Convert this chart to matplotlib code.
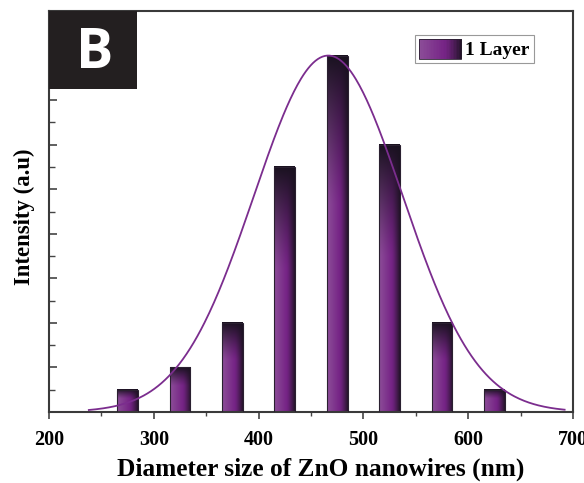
import numpy as np
import matplotlib
matplotlib.use("Agg")
import matplotlib.pyplot as plt
from matplotlib.patches import Rectangle
from matplotlib.legend_handler import HandlerBase
from matplotlib.ticker import MultipleLocator

# ---- data ----
diameters = [275, 325, 375, 425, 475, 525, 575, 625]
counts = [1, 2, 4, 11, 16, 12, 4, 1]
bar_width = 20
fit_center = 466.5
fit_sigma = 71.0
fit_amplitude = 16.0
fit_range = (238, 692)
xticks = [200, 300, 400, 500, 600, 700]
series_label = "1 Layer"

serif = ["Liberation Serif", "DejaVu Serif"]

fig = plt.figure(figsize=(5.84, 4.83), dpi=100)
ax = fig.add_axes([49/584, 1-412/483, 524/584, 401/483])

# colours
light = np.array([140, 78, 152]) / 255
mid = np.array([118, 36, 134]) / 255
darkedge = np.array([38, 20, 44]) / 255
dark = np.array([26, 18, 32]) / 255


def horiz(u):
    u = np.asarray(u)[..., None]
    c1 = light + (mid - light) * np.clip(u / 0.6, 0, 1)
    c2 = mid + (darkedge - mid) * np.clip((u - 0.6) / 0.4, 0, 1) ** 1.3
    return np.where(u < 0.6, c1, c2)


def bar_image(nx=40, ny=200):
    u = np.linspace(0, 1, nx)[None, :]
    t = np.linspace(0, 1, ny)[:, None]  # 0 top -> 1 bottom
    base = horiz(np.broadcast_to(u, (ny, nx)))
    f = np.clip(1 - t / 0.42, 0, 1) ** 1.2
    img = base * (1 - f[..., None]) + dark * f[..., None]
    return img


bars = ax.bar(diameters, counts, width=bar_width, facecolor="none",
              edgecolor="#2a2030", linewidth=0.8, zorder=3)
img = bar_image()
for b in bars:
    x0, w, h = b.get_x(), b.get_width(), b.get_height()
    ax.imshow(img, extent=(x0, x0 + w, 0, h), aspect="auto", zorder=2,
              interpolation="bilinear")

xs = np.linspace(fit_range[0], fit_range[1], 400)
ys = fit_amplitude * np.exp(-(xs - fit_center) ** 2 / (2 * fit_sigma ** 2))
ax.plot(xs, ys, color="#7b2d8e", lw=1.3, zorder=4)

ax.set_xlim(200, 700)
ax.set_ylim(0, 18)
ax.set_xticks(xticks)
ax.xaxis.set_minor_locator(MultipleLocator(50))
ax.yaxis.set_major_locator(MultipleLocator(2))
ax.yaxis.set_minor_locator(MultipleLocator(1))
ax.set_yticklabels([])
ax.tick_params(axis="x", which="major", direction="out", length=5, width=1.2,
               color="#444444", labelsize=14.5, pad=8)
ax.tick_params(axis="x", which="minor", direction="out", length=3, width=1.0,
               color="#444444")
ax.tick_params(axis="y", which="major", direction="in", length=6, width=1.2,
               color="#444444", left=True)
ax.tick_params(axis="y", which="minor", direction="in", length=4, width=1.0,
               color="#444444")
for lab in ax.get_xticklabels():
    lab.set_fontfamily(serif)
    lab.set_fontweight("bold")
for s in ax.spines.values():
    s.set_color("#3a3a3a")
    s.set_linewidth(1.5)

ax.set_xlabel("Diameter size of ZnO nanowires (nm)", fontfamily=serif,
              fontweight="bold", fontsize=18.3, va="center", ha="center")
ax.xaxis.set_label_coords(0.518, -0.142)
ax.set_ylabel("Intensity (a.u)", fontfamily=serif, fontweight="bold",
              fontsize=16.4, va="center", ha="center")
ax.yaxis.set_label_coords(-0.046, 0.4875)

# panel label
ax.add_patch(Rectangle((0, 0.805), 0.168, 0.195, transform=ax.transAxes,
                       facecolor="#231f20", edgecolor="none", zorder=6,
                       clip_on=False))
ax.text(0.088, 0.895, "B", transform=ax.transAxes, color="white",
        fontsize=40, fontweight="bold", fontfamily=["Open Sans", "DejaVu Sans"],
        ha="center", va="center", zorder=7)


class GradHandler(HandlerBase):
    def create_artists(self, legend, orig_handle, xdescent, ydescent, width,
                       height, fontsize, trans):
        arts = []
        n = 30
        for i in range(n):
            u = i / (n - 1)
            c = horiz(np.array([u]))[0]
            r = Rectangle((-xdescent + width * i / n, -ydescent), width / n + 0.3,
                          height, facecolor=c, edgecolor="none", transform=trans)
            arts.append(r)
        arts.append(Rectangle((-xdescent, -ydescent), width, height,
                              facecolor="none", edgecolor="#2a2030", lw=0.6,
                              transform=trans))
        return arts


handle = Rectangle((0, 0), 1, 1)
leg = ax.legend([handle], [series_label], handler_map={Rectangle: GradHandler()},
                loc="upper left", bbox_to_anchor=(0.698, 0.94),
                prop={"family": serif, "weight": "bold", "size": 14},
                fancybox=False, framealpha=1, edgecolor="#999999",
                handlelength=2.2, handleheight=1.2, handletextpad=0.2,
                borderpad=0.2, borderaxespad=0)
leg.get_frame().set_linewidth(0.8)

fig.savefig("out.png", dpi=100)
